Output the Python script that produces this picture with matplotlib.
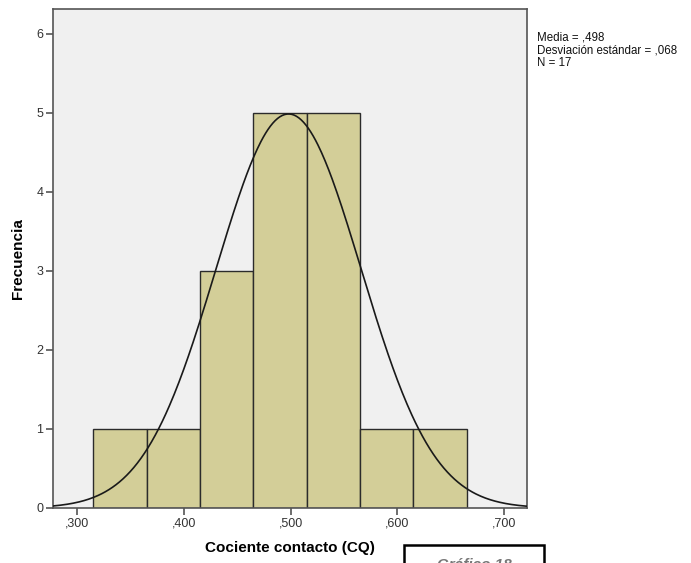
import numpy as np
import matplotlib.pyplot as plt
from matplotlib.patches import Rectangle

# datos del histograma
bin_edges = [0.315, 0.365, 0.415, 0.465, 0.515, 0.565, 0.615, 0.665]
counts = [1, 1, 3, 5, 5, 1, 1]
media = 0.498
desv = 0.068
n = 17
xticks = [0.3, 0.4, 0.5, 0.6, 0.7]
xtick_labels = [",300", ",400", ",500", ",600", ",700"]
yticks = [0, 1, 2, 3, 4, 5, 6]


def main():
	plt.rcParams['font.family'] = ['Liberation Sans', 'DejaVu Sans']
	fig = plt.figure(figsize=(6.91, 5.63), dpi=100)
	ax = fig.add_axes([0.0767, 0.0977, 0.686, 0.8856])
	ax.set_facecolor('#f0f0f0')

	lefts = bin_edges[:-1]
	widths = np.diff(bin_edges)
	ax.bar(lefts, counts, width=widths, align='edge', color='#d3ce98',
		edgecolor='#2b2b2b', linewidth=1.0, zorder=2)

	xlim = (0.2772, 0.7215)
	x = np.linspace(xlim[0], xlim[1], 400)
	bw = bin_edges[1] - bin_edges[0]
	y = n * bw / (desv * np.sqrt(2 * np.pi)) * np.exp(-0.5 * ((x - media) / desv) ** 2)
	ax.plot(x, y, color='#1a1a1a', linewidth=1.2, zorder=3)

	ax.set_xlim(*xlim)
	ax.set_ylim(0, 6.31)
	ax.set_xticks(xticks)
	ax.set_xticklabels(xtick_labels)
	ax.set_yticks(yticks)
	ax.tick_params(direction='out', length=5, width=1.2, color='#555555',
		labelsize=9, labelcolor='#333333', pad=2)
	for s in ax.spines.values():
		s.set_color('#555555')
		s.set_linewidth(1.2)

	ax.set_xlabel("Cociente contacto (CQ)", fontsize=11, fontweight='bold', labelpad=8)
	ax.set_ylabel("Frecuencia", fontsize=11, fontweight='bold', labelpad=8)

	fig.text(537/691, 1 - 32/563,
		"Media = ,498\nDesviación estándar = ,068\nN = 17",
		fontsize=8.3, va='top', ha='left', linespacing=1.05, color='#111111')

	# recuadro cortado abajo
	fig.patches.append(Rectangle((404/691, -0.02), 140/691, 0.02 + 18/563,
		transform=fig.transFigure, fill=False, edgecolor='black', linewidth=1.8))
	fig.text(474/691, -9/563, "Gráfico 18", fontsize=11, fontstyle='italic',
		fontweight='bold', color='#777777', ha='center', va='bottom')

	fig.savefig("out.png", dpi=100)


main()
